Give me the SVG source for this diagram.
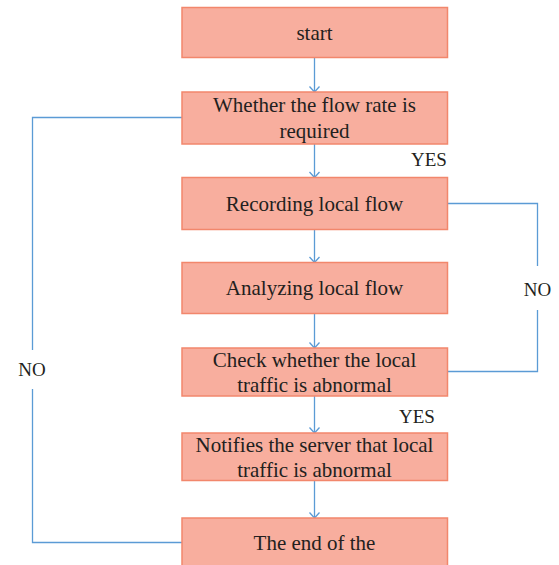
<svg xmlns="http://www.w3.org/2000/svg" width="559" height="565" viewBox="0 0 559 565">
  <style>
    .box { fill: #f8ae9e; stroke: #f2876c; stroke-width: 1.5; }
    .lbl { font-family: "Liberation Serif", "Times New Roman", serif; font-size: 21px; fill: #231f20; text-anchor: middle; }
    .tag { font-family: "Liberation Serif", "Times New Roman", serif; font-size: 19px; fill: #231f20; text-anchor: middle; }
    .wire { fill: none; stroke: #5b9bd5; stroke-width: 1.3; }
  </style>
  <rect width="559" height="565" fill="#ffffff"/>

  <g id="connectors">
    <line class="wire" x1="314.5" y1="57.5" x2="314.5" y2="92"/>
    <line class="wire" x1="314.5" y1="144" x2="314.5" y2="177.5"/>
    <line class="wire" x1="314.5" y1="229.5" x2="314.5" y2="262.5"/>
    <line class="wire" x1="314.5" y1="313.5" x2="314.5" y2="348"/>
    <line class="wire" x1="314.5" y1="396" x2="314.5" y2="433"/>
    <line class="wire" x1="314.5" y1="480.5" x2="314.5" y2="518"/>
    <!-- open chevron heads -->
    <path class="wire" d="M309.5,86.5 L314.5,92 L319.5,86.5"/>
    <path class="wire" d="M309.5,172 L314.5,177.5 L319.5,172"/>
    <path class="wire" d="M309.5,257 L314.5,262.5 L319.5,257"/>
    <path class="wire" d="M309.5,342.5 L314.5,348 L319.5,342.5"/>
    <path class="wire" d="M309.5,427.5 L314.5,433 L319.5,427.5"/>
    <path class="wire" d="M309.5,512.5 L314.5,518 L319.5,512.5"/>
    <!-- right NO loop -->
    <polyline class="wire" points="447.5,203.5 537.5,203.5 537.5,266"/>
    <polyline class="wire" points="537.5,310 537.5,371.5 447.5,371.5"/>
    <!-- left NO loop -->
    <polyline class="wire" points="182,117.5 32.5,117.5 32.5,350"/>
    <polyline class="wire" points="32.5,389 32.5,542.5 182,542.5"/>
    <text class="tag" x="429" y="166">YES</text>
    <text class="tag" x="417" y="423">YES</text>
    <text class="tag" x="537.5" y="296">NO</text>
    <text class="tag" x="32" y="376">NO</text>
  </g>

  <g id="start">
    <rect class="box" x="182" y="7.5" width="265.5" height="50"/>
    <text class="lbl" x="314.5" y="40">start</text>
  </g>
  <g id="flow-rate-check">
    <rect class="box" x="182" y="92" width="265.5" height="52"/>
    <text class="lbl" x="314.5" y="112">Whether the flow rate is</text>
    <text class="lbl" x="314.5" y="138">required</text>
  </g>
  <g id="record">
    <rect class="box" x="182" y="177.5" width="265.5" height="52"/>
    <text class="lbl" x="314.5" y="211">Recording local flow</text>
  </g>
  <g id="analyze">
    <rect class="box" x="182" y="262.5" width="265.5" height="51"/>
    <text class="lbl" x="314.5" y="295">Analyzing local flow</text>
  </g>
  <g id="abnormal-check">
    <rect class="box" x="182" y="348" width="265.5" height="48"/>
    <text class="lbl" x="314.5" y="367">Check whether the local</text>
    <text class="lbl" x="314.5" y="392">traffic is abnormal</text>
  </g>
  <g id="notify">
    <rect class="box" x="182" y="433" width="265.5" height="47.5"/>
    <text class="lbl" x="314.5" y="452">Notifies the server that local</text>
    <text class="lbl" x="314.5" y="477">traffic is abnormal</text>
  </g>
  <g id="end">
    <rect class="box" x="182" y="518" width="265.5" height="52"/>
    <text class="lbl" x="314.5" y="550">The end of the</text>
  </g>
</svg>
